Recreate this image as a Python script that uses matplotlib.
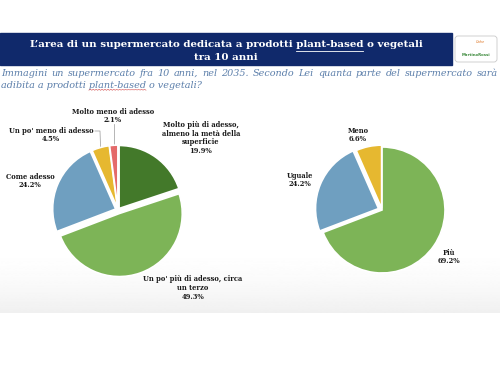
import numpy as np
import matplotlib.pyplot as plt
from matplotlib.patches import Rectangle, FancyBboxPatch

# data
left_labels = ["Molto più di adesso,\nalmeno la metà della\nsuperficie",
               "Un po' più di adesso, circa\nun terzo",
               "Come adesso",
               "Un po' meno di adesso",
               "Molto meno di adesso"]
left_values = [19.9, 49.3, 24.2, 4.5, 2.1]
left_colors = ["#43792a", "#7db457", "#6f9fc0", "#e6b830", "#e46a6a"]
left_explode = [0.03, 0.06, 0.04, 0.03, 0.03]

right_labels = ["Più", "Uguale", "Meno"]
right_values = [69.2, 24.2, 6.6]
right_colors = ["#7db457", "#6f9fc0", "#e6b830"]
right_explode = [0.0, 0.06, 0.03]

title_lines = ["L’area di un supermercato dedicata a prodotti plant-based o vegetali", "tra 10 anni"]
subtitle_1 = "Immagini un supermercato fra 10 anni, nel 2035. Secondo Lei quanta parte del supermercato sarà"
subtitle_2 = "adibita a prodotti plant-based o vegetali?"

W, H = 500, 383
fig = plt.figure(figsize=(W / 100, H / 100), dpi=100)
bg = fig.add_axes([0, 0, 1, 1])
bg.set_xlim(0, W)
bg.set_ylim(H, 0)
bg.axis("off")

# slide background, slight gray towards bottom
grad = np.linspace(0, 1, 100)[:, None] ** 2
bg.imshow(1 - 0.06 * grad, cmap="gray", vmin=0, vmax=1, extent=(0, W, 313, 240),
          aspect="auto", zorder=0)
bg.add_patch(Rectangle((0, 33), 452, 32, color="#10296b", zorder=1))
bg.add_patch(FancyBboxPatch((455, 36), 42, 26, boxstyle="round,pad=0,rounding_size=3",
                            fc="white", ec="#c9c9c9", lw=0.6, zorder=2))
bg.text(480, 42, "Cahe", fontsize=2.6, color="#e07a2a", style="italic", ha="center", va="center", zorder=3)
bg.text(476, 55, "MartinoRossi", fontsize=2.8, color="#3c8a3c", weight="bold", ha="center", va="center", zorder=3)

serif = "DejaVu Serif"
tkw = dict(fontsize=7.4, family=serif, weight="bold")
bg.text(226, 44.5, title_lines[0], color="white", ha="center", va="center", zorder=3, **tkw)
bg.text(226, 58, title_lines[1], color="white", ha="center", va="center", zorder=3, **tkw)

renderer = fig.canvas.get_renderer()


def width_of(s, **kw):
    t = bg.text(0, 0, s, **kw)
    bb = t.get_window_extent(renderer)
    t.remove()
    return bb.width


# underline plant-based in title
full_w = width_of(title_lines[0], **tkw)
pre_w = width_of("L’area di un supermercato dedicata a prodotti ", **tkw)
pb_w = width_of("plant-based", **tkw)
x0 = 226 - full_w / 2 + pre_w
bg.plot([x0, x0 + pb_w], [50.5, 50.5], color="white", lw=0.6, zorder=3)

# subtitle, first line justified
skw = dict(fontsize=6.9, family=serif, style="italic", color="#5b7eaa")
words = subtitle_1.split()
ws = [width_of(w, **skw) for w in words]
x_end = 498
gap = (x_end - 1 - sum(ws)) / (len(words) - 1)
x = 1
for w, wd in zip(words, ws):
    bg.text(x, 73.5, w, ha="left", va="center", zorder=3, **skw)
    x += wd + gap
bg.text(1, 85, subtitle_2, ha="left", va="center", zorder=3, **skw)
pre2 = width_of("adibita a prodotti ", **skw)
pb2 = width_of("plant-based", **skw)
xs = np.linspace(1 + pre2, 1 + pre2 + pb2, 40)
bg.plot(xs, 89.8 + 0.5 * np.sin(xs * 2.2), color="#d04040", lw=0.4, zorder=3)


def add_pie(cx, cy, r, values, colors, explode):
    s = 2 * r * 1.2
    ax = fig.add_axes([(cx - s / 2) / W, 1 - (cy + s / 2) / H, s / W, s / H])
    ax.pie(values, colors=colors, explode=explode, startangle=90, counterclock=False,
           wedgeprops=dict(edgecolor="white", linewidth=1.2))
    ax.set_xlim(-1.2, 1.2)
    ax.set_ylim(-1.2, 1.2)
    ax.axis("off")


add_pie(118, 210, 63, left_values, left_colors, left_explode)
add_pie(382, 210, 63, right_values, right_colors, right_explode)

lkw = dict(fontsize=4.9, family=serif, weight="bold", ha="center", va="center",
           linespacing=1.15, color="#1a1a1a", zorder=4)

left_pos = [(201, 138), (193, 288), (30, 181), (51, 135), (113, 116)]
for lab, v, (px, py) in zip(left_labels, left_values, left_pos):
    bg.text(px, py, f"{lab}\n{v:.1f}%", **lkw)

right_pos = [(449, 257), (300, 180), (358, 135)]
for lab, v, (px, py) in zip(right_labels, right_values, right_pos):
    bg.text(px, py, f"{lab}\n{v:.1f}%", **lkw)

# leader lines
bg.plot([113.5, 113.5], [124, 145], color="#999999", lw=0.5, zorder=3)
bg.plot([95, 100, 100.5], [131, 131, 147], color="#999999", lw=0.5, zorder=3)

fig.savefig("out.png", dpi=100)
